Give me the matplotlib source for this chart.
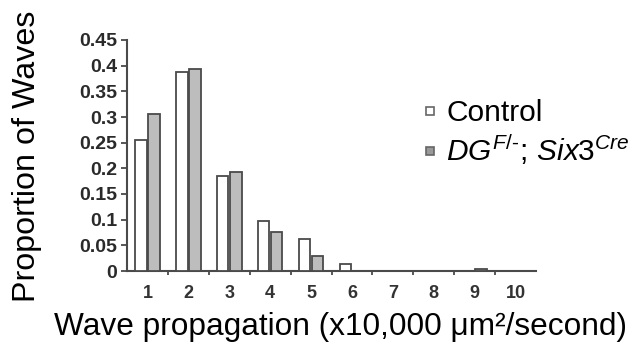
import matplotlib
matplotlib.use("Agg")
import matplotlib.pyplot as plt
from matplotlib.lines import Line2D
import numpy as np

plt.rcParams['font.family'] = ['Liberation Sans', 'DejaVu Sans']
plt.rcParams['mathtext.fontset'] = 'custom'
plt.rcParams['mathtext.it'] = 'Liberation Sans:italic'
plt.rcParams['mathtext.rm'] = 'Liberation Sans'

categories = [1, 2, 3, 4, 5, 6, 7, 8, 9, 10]
control = [0.255, 0.388, 0.185, 0.098, 0.062, 0.013, 0.0, 0.0, 0.0, 0.0]
mutant = [0.305, 0.394, 0.192, 0.076, 0.029, 0.0, 0.0, 0.0, 0.004, 0.0]
yticks = [0, 0.05, 0.1, 0.15, 0.2, 0.25, 0.3, 0.35, 0.4, 0.45]
ytick_labels = ['0', '0.05', '0.1', '0.15', '0.2', '0.25', '0.3', '0.35', '0.4', '0.45']
legend_labels = ['Control', r'$\mathit{DG^{F/\text{-}};\,Six3^{Cre}}$']

fig = plt.figure(figsize=(6.34, 3.45), dpi=100)
ax = fig.add_axes([127/634, 1-271/345, (536-127)/634, (271-40)/345])

x = np.array(categories, dtype=float)
w = 0.28
edge = '#4a4a4a'
ax.bar(x - 0.16, control, width=w, color='white', edgecolor=edge, linewidth=1.3, zorder=3)
ax.bar(x + 0.16, mutant, width=w, color='#bdbdbd', edgecolor=edge, linewidth=1.3, zorder=3)

ax.set_xlim(0.5, 10.5)
ax.set_ylim(0, 0.45)
ax.set_yticks(yticks)
ax.set_yticklabels(ytick_labels, fontsize=14, fontweight='bold', color='#2a2a2a')
ax.set_xticks(categories)
ax.set_xticklabels([str(c) for c in categories], fontsize=13, fontweight='bold', color='#333333')
ax.set_xticks(np.arange(1.5, 10.5, 1.0), minor=True)
ax.tick_params(axis='x', which='major', length=0, pad=10)
ax.tick_params(axis='x', which='minor', length=3, width=1.3, color=edge, direction='out')
ax.tick_params(axis='y', length=4, width=1.3, color=edge, direction='out', pad=3)

for s in ['top', 'right']:
    ax.spines[s].set_visible(False)
for s in ['left', 'bottom']:
    ax.spines[s].set_color(edge)
    ax.spines[s].set_linewidth(1.5)

fig.text(27/634, 1-156/345, 'Proportion of Waves', rotation=90, fontsize=23.2,
         ha='center', va='center', color='black')
fig.text(341/634, 1-327/345, 'Wave propagation (x10,000 \u03bcm\u00b2/second)', fontsize=22.8,
         ha='center', va='center', color='black')

handles = [
    Line2D([], [], linestyle='none', marker='s', markersize=6, markerfacecolor='white',
           markeredgecolor='#666666', markeredgewidth=1.2),
    Line2D([], [], linestyle='none', marker='s', markersize=6, markerfacecolor='#999999',
           markeredgecolor='#666666', markeredgewidth=1.2),
]
fig.legend(handles, legend_labels, loc='upper left', bbox_to_anchor=(421/634, 1-99/345),
           frameon=False, fontsize=21.5, handlelength=0.6, handletextpad=0.25,
           labelspacing=0.18, borderaxespad=0, borderpad=0)

fig.savefig('out.png', dpi=100)
